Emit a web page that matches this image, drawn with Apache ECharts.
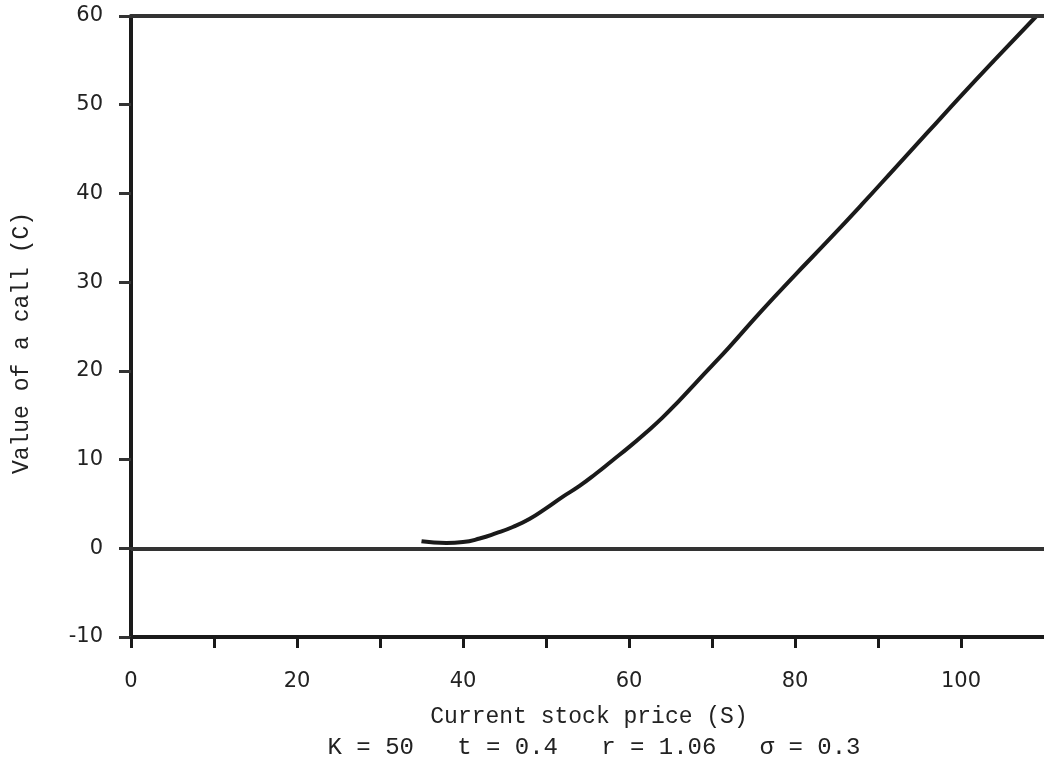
<!DOCTYPE html>
<html>
<head>
<meta charset="utf-8">
<script src="https://cdn.jsdelivr.net/npm/echarts@6/dist/echarts.min.js"></script>
<style>
  html, body { margin: 0; padding: 0; background: #fff; }
  #chart { width: 1044px; height: 771px; }
</style>
</head>
<body>
<div id="chart"></div>
<script>
// Call value C against current stock price S
const stockPrice = [35, 38, 40, 42, 44, 46, 48, 50, 52, 54, 56, 58, 60, 62, 64, 66, 68, 70, 72, 76, 80, 84, 88, 92, 96, 100, 104, 109.1];
const callValue  = [0.8, 0.6, 0.7, 1.1, 1.7, 2.4, 3.3, 4.5, 5.8, 7.0, 8.4, 9.9, 11.4, 13.0, 14.7, 16.6, 18.6, 20.6, 22.6, 26.8, 30.8, 34.7, 38.7, 42.8, 46.9, 51.0, 55.0, 60.0];

// Reference lines drawn across the plot
const refLevels = [0, 60];

const xTitle = 'Current stock price (S)';
const yTitle = 'Value of a call (C)';
const paramLine = 'K = 50   t = 0.4   r = 1.06   σ = 0.3';

const monoFont = '"Liberation Mono", "DejaVu Sans Mono", monospace';
const tickFont = '"DejaVu Sans", "Liberation Sans", sans-serif';
const ink = '#1a1a1a';

const chart = echarts.init(document.getElementById('chart'), null, { renderer: 'canvas' });

chart.setOption({
  backgroundColor: '#ffffff',
  animation: false,
  grid: { left: 131, top: 16, width: 917, height: 621, containLabel: false },
  xAxis: {
    type: 'value',
    min: 0, max: 110, interval: 10,
    position: 'bottom',
    axisLine: { show: true, onZero: false, lineStyle: { color: ink, width: 4 } },
    axisTick: { show: true, inside: false, length: 11, lineStyle: { color: ink, width: 3 } },
    axisLabel: {
      margin: 34, fontSize: 21, color: '#222', fontFamily: tickFont,
      showMaxLabel: false,
      formatter: v => (v % 20 === 0 && v <= 100) ? String(v) : ''
    },
    splitLine: { show: false }
  },
  yAxis: {
    type: 'value',
    min: -10, max: 60, interval: 10,
    axisLine: { show: true, onZero: false, lineStyle: { color: ink, width: 4 } },
    axisTick: { show: true, inside: false, length: 12, lineStyle: { color: '#333', width: 3 } },
    axisLabel: { margin: 28, fontSize: 21, color: '#222', fontFamily: tickFont },
    splitLine: { show: false }
  },
  graphic: [
    {
      type: 'text',
      x: 22, y: 343, rotation: Math.PI / 2,
      style: { text: yTitle, font: '23px ' + monoFont, fill: '#222', align: 'center', verticalAlign: 'middle' }
    },
    {
      type: 'text',
      x: 589, y: 717,
      style: { text: xTitle, font: '23px ' + monoFont, fill: '#222', align: 'center', verticalAlign: 'middle' }
    },
    {
      type: 'text',
      x: 594, y: 748,
      style: { text: paramLine, font: '24px ' + monoFont, fill: '#222', align: 'center', verticalAlign: 'middle' }
    }
  ],
  series: [
    {
      type: 'line',
      data: stockPrice.map((s, i) => [s, callValue[i]]),
      smooth: 0.5,
      symbol: 'none',
      lineStyle: { color: ink, width: 4 },
      markLine: {
        silent: true,
        symbol: ['none', 'none'],
        label: { show: false },
        lineStyle: { color: '#333', width: 4, type: 'solid' },
        data: refLevels.map(v => ({ yAxis: v }))
      }
    }
  ]
});
</script>
</body>
</html>
